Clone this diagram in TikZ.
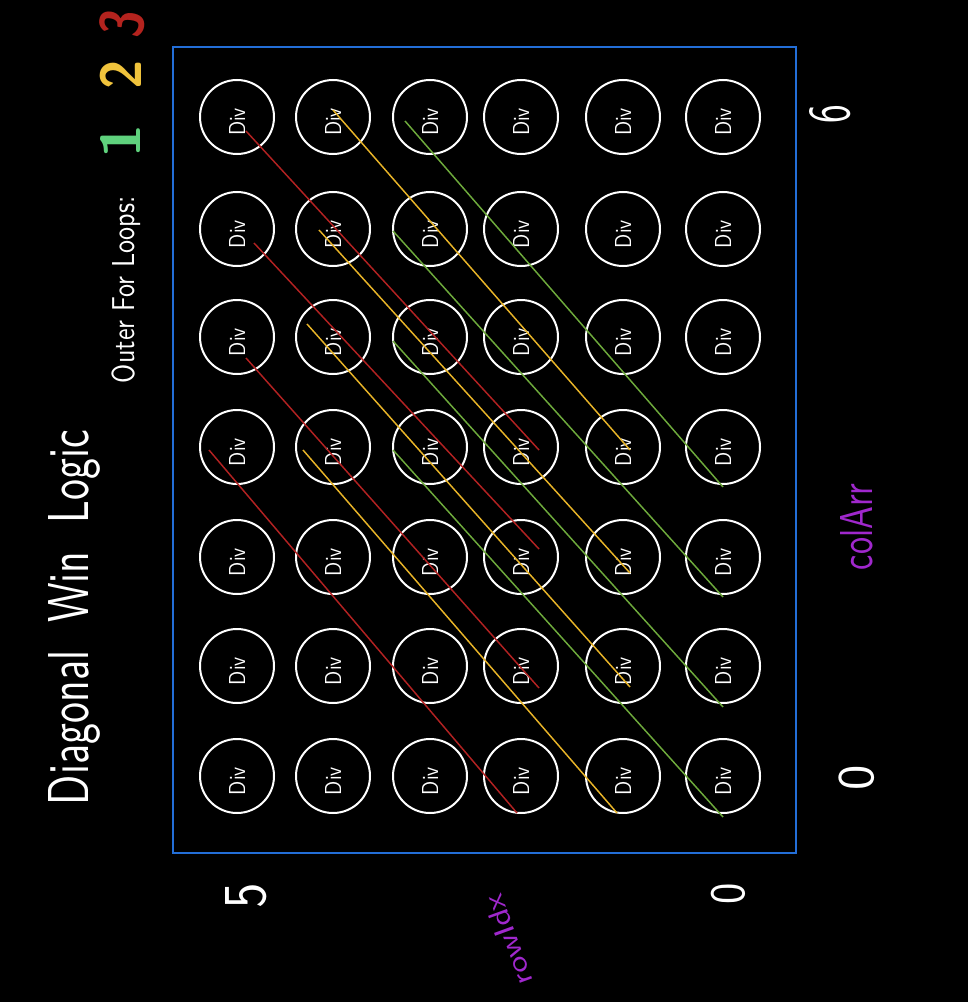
\documentclass[tikz,border=0pt]{standalone}
\usepackage{fontspec}
\usepackage{graphicx}
\definecolor{bluebox}{RGB}{35,110,215}
\definecolor{linered}{RGB}{178,34,34}
\definecolor{lineyellow}{RGB}{232,180,40}
\definecolor{linegreen}{RGB}{110,170,60}
\definecolor{digitgreen}{RGB}{95,210,125}
\definecolor{digityellow}{RGB}{240,195,60}
\definecolor{digitred}{RGB}{180,35,30}
\definecolor{labelpurple}{RGB}{160,40,205}
\newcommand{\fitbox}[3]{\resizebox{#1}{#2}{#3}}
\begin{document}
\begin{tikzpicture}[x=0.75pt,y=-0.75pt,
  every node/.style={inner sep=0pt, outer sep=0pt},
  cell/.style={circle, draw=white, line width=1.5pt, minimum size=55.5pt},
  divtxt/.style={rotate=90, text=white, font=\sffamily},
  handtxt/.style={rotate=90, text=white, font=\sffamily},
  bigdigit/.style={rotate=90, font=\sffamily\bfseries},
  purpletxt/.style={text=labelpurple, font=\sffamily},
  redline/.style={draw=linered, line width=1.1pt},
  yellowline/.style={draw=lineyellow, line width=1.1pt},
  greenline/.style={draw=linegreen, line width=1.1pt},
  board/.style={draw=bluebox, line width=1.8pt}]
\useasboundingbox (0,0) rectangle (968,1002);
\fill[black] (0,0) rectangle (968,1002);

% board frame
\draw[board] (173,47) rectangle (796,853);

% grid of circles
\foreach \x [count=\i] in {237,333,430,521,623,723} {
  \foreach \y [count=\j] in {117,229,337,447,557,666,776} {
    \node[cell] (c-\i-\j) at (\x,\y) {};
    \node[divtxt] (d-\i-\j) at (\x,\y+5) {\fitbox{21pt}{12pt}{Div}};
  }
}

% diagonal line end points
\coordinate (r1a) at (246,131); \coordinate (r1b) at (539,450);
\coordinate (r2a) at (254,243); \coordinate (r2b) at (539,549);
\coordinate (r3a) at (246,358); \coordinate (r3b) at (539,688);
\coordinate (r4a) at (209,450); \coordinate (r4b) at (517,813);
\coordinate (y1a) at (333,110); \coordinate (y1b) at (630,450);
\coordinate (y2a) at (319,230); \coordinate (y2b) at (630,573);
\coordinate (y3a) at (307,324); \coordinate (y3b) at (630,687);
\coordinate (y4a) at (303,450); \coordinate (y4b) at (617,813);
\coordinate (g1a) at (405,121); \coordinate (g1b) at (723,487);
\coordinate (g2a) at (393,231); \coordinate (g2b) at (723,597);
\coordinate (g3a) at (393,341); \coordinate (g3b) at (723,707);
\coordinate (g4a) at (393,450); \coordinate (g4b) at (723,817);

\draw[redline] (r1a) -- (r1b);
\draw[redline] (r2a) -- (r2b);
\draw[redline] (r3a) -- (r3b);
\draw[redline] (r4a) -- (r4b);
\draw[yellowline] (y1a) -- (y1b);
\draw[yellowline] (y2a) -- (y2b);
\draw[yellowline] (y3a) -- (y3b);
\draw[yellowline] (y4a) -- (y4b);
\draw[greenline] (g1a) -- (g1b);
\draw[greenline] (g2a) -- (g2b);
\draw[greenline] (g3a) -- (g3b);
\draw[greenline] (g4a) -- (g4b);

% titles
\node[handtxt, anchor=base west] (title) at (88,805) {\fitbox{281pt}{30pt}{Diagonal\ \ Win\ \ Logic}};
\node[handtxt, anchor=base west] (loops) at (134,383) {\fitbox{140pt}{17pt}{Outer For Loops:}};
\node[bigdigit, text=digitgreen] (one) at (120,141) {\fitbox{26pt}{30pt}{1}};
\node[bigdigit, text=digityellow] (two) at (121,75) {\fitbox{22pt}{31pt}{2}};
\node[bigdigit, text=digitred, rotate=-8] (three) at (122,23) {\fitbox{20pt}{33pt}{3}};

% axis labels
\node[handtxt] (six) at (830,114) {\fitbox{14pt}{30pt}{6}};
\node[handtxt] (zeroc) at (857,778) {\fitbox{19pt}{26pt}{0}};
\node[purpletxt, rotate=90, anchor=base west] (colarr) at (872,570) {\fitbox{65pt}{24pt}{colArr}};
\node[handtxt] (five) at (246,896) {\fitbox{19pt}{30pt}{5}};
\node[handtxt] (zeror) at (728,894) {\fitbox{16pt}{25pt}{0}};
\node[purpletxt, rotate=110] (rowidx) at (508,940) {\fitbox{71pt}{15pt}{rowIdx}};
\end{tikzpicture}
\end{document}
